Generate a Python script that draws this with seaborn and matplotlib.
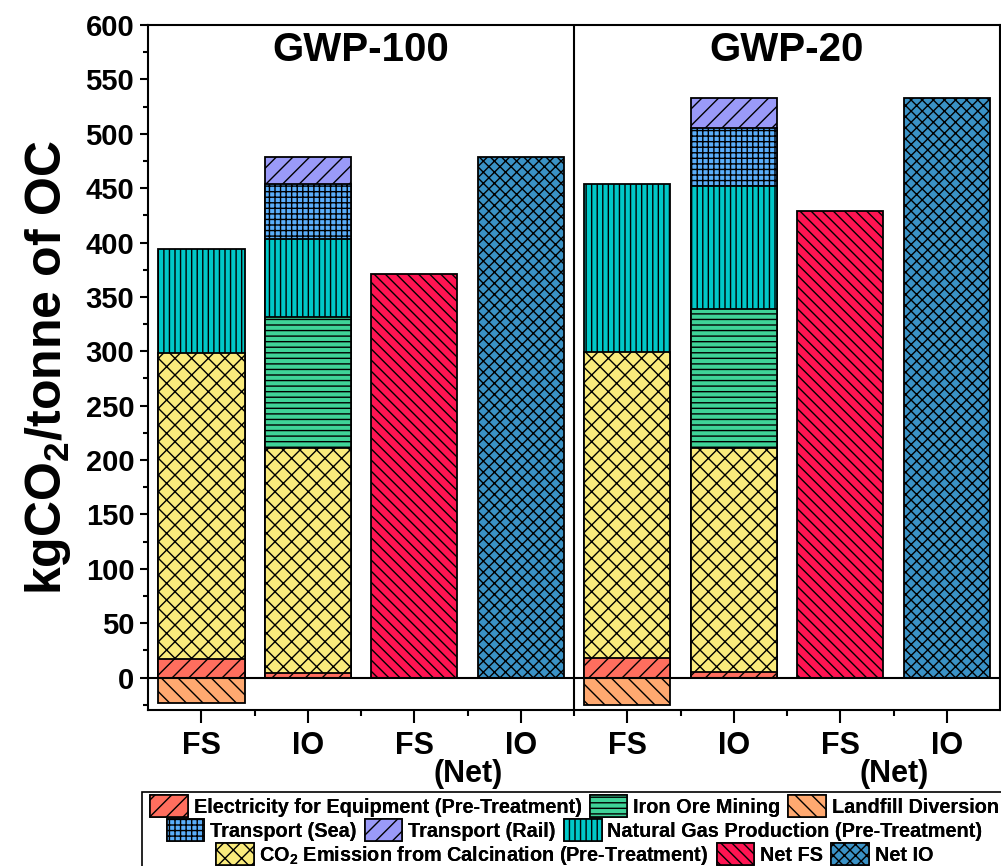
import numpy as np
import pandas as pd
import matplotlib.pyplot as plt
from matplotlib.patches import Patch, Rectangle
import seaborn as sns

nan = np.nan

# one slot per bar: FS, IO, FS (Net), IO (Net) for GWP-100 then GWP-20
slots = ["FS-100", "IO-100", "FSnet-100", "IOnet-100",
         "FS-20", "IO-20", "FSnet-20", "IOnet-20"]
tick_labels = ["FS", "IO", "FS", "IO", "FS", "IO", "FS", "IO"]
scenarios = ["GWP-100", "GWP-20"]

# stacked contributions (kgCO2 / tonne OC), bottom to top
electricity = [17, 4, nan, nan, 18, 5, nan, nan]
calcination = [281, 207, nan, nan, 281, 206, nan, nan]
iron_ore = [nan, 121, nan, nan, nan, 128, nan, nan]
natural_gas = [96, 71, nan, nan, 155, 113, nan, nan]
transport_sea = [nan, 51, nan, nan, nan, 53, nan, nan]
transport_rail = [nan, 25, nan, nan, nan, 28, nan, nan]
landfill = [-23, nan, nan, nan, -25, nan, nan, nan]
net_fs = [nan, nan, 371, nan, nan, nan, 429, nan]
net_io = [nan, nan, nan, 479, nan, nan, nan, 533]

stack = [
    ("Electricity for Equipment (Pre-Treatment)", electricity, "#FF6E5E", "//"),
    ("CO$_2$ Emission from Calcination (Pre-Treatment)", calcination, "#FAEB7C", "xx"),
    ("Iron Ore Mining", iron_ore, "#3FD398", "---"),
    ("Natural Gas Production (Pre-Treatment)", natural_gas, "#00C8C8", "|||"),
    ("Transport (Sea)", transport_sea, "#5AAEFA", "+++"),
    ("Transport (Rail)", transport_rail, "#9A9AF8", "//"),
]
singles = [
    ("Landfill Diversion", landfill, "#FFA970", "\\\\"),
    ("Net FS", net_fs, "#FF1452", "\\\\\\"),
    ("Net IO", net_io, "#3A92C6", "xxx"),
]

sns.set_theme(style="ticks")
plt.rcParams["font.family"] = ["Liberation Sans", "DejaVu Sans"]
plt.rcParams["font.weight"] = "bold"
plt.rcParams["text.color"] = "black"
plt.rcParams["axes.labelcolor"] = "black"
plt.rcParams["mathtext.fontset"] = "custom"
plt.rcParams["mathtext.rm"] = "Liberation Sans:bold"
plt.rcParams["mathtext.default"] = "rm"
plt.rcParams["hatch.linewidth"] = 1.0
plt.rcParams["hatch.color"] = "black"

fig = plt.figure(figsize=(10.01, 8.66), dpi=100)
ax = fig.add_axes([0.148, 0.18, 0.851, 0.791])

def draw(values, color, hatch):
    sns.barplot(x=slots, y=values, order=slots, color=color, saturation=1,
                width=0.81, edgecolor="black", linewidth=1.3, errorbar=None, ax=ax)
    for bar in ax.containers[-1]:
        bar.set_hatch(hatch)

# stacked bars: draw cumulative totals from the top layer down
parts = np.array([np.nan_to_num(v) for _, v, _, _ in stack])
tops = np.cumsum(parts, axis=0)
for i in range(len(stack) - 1, -1, -1):
    name, vals, color, hatch = stack[i]
    heights = [t if not np.isnan(v) else nan for t, v in zip(tops[i], vals)]
    draw(heights, color, hatch)
for name, vals, color, hatch in singles:
    draw(vals, color, hatch)

ax.set_xlim(-0.5, 7.5)
ax.set_ylim(-30, 600)
ax.set_xlabel("")
ax.set_ylabel("kgCO$_2$/tonne of OC", fontsize=36, fontweight="bold", labelpad=9)
ax.set_yticks(np.arange(0, 601, 50))
ax.set_yticks(np.arange(-25, 600, 25), minor=True)
ax.set_xticks(range(8))
ax.set_xticklabels(tick_labels)
ax.set_xticks(np.arange(0.5, 7.5, 1), minor=True)
ax.tick_params(axis="both", which="both", direction="out", width=1.5, colors="black")
ax.tick_params(axis="y", which="major", length=6, labelsize=21, pad=4)
ax.tick_params(axis="y", which="minor", length=3.5)
ax.tick_params(axis="x", which="major", length=9, labelsize=22, pad=6)
ax.tick_params(axis="x", which="minor", length=4)
for lab in ax.get_xticklabels() + ax.get_yticklabels():
    lab.set_fontweight("bold")
for s in ax.spines.values():
    s.set_visible(True)
    s.set_linewidth(1.5)
    s.set_color("black")

ax.axhline(0, color="black", lw=1.5, zorder=5)
ax.axvline(3.5, color="black", lw=1.5, zorder=5)
for k, name in enumerate(scenarios):
    ax.text(1.5 + 4 * k, 577, name, ha="center", va="center",
            fontsize=29, fontweight="bold")
    ax.text(2.18 + 4 * k, -89, "(Net)", ha="left", va="center",
            fontsize=22, fontweight="bold", clip_on=False)

# legend: three centred rows inside one frame
handles = {n: Patch(facecolor=c, edgecolor="black", hatch=h, lw=1.2)
           for n, _, c, h in stack + singles}
rows = [
    ["Electricity for Equipment (Pre-Treatment)", "Iron Ore Mining", "Landfill Diversion"],
    ["Transport (Sea)", "Transport (Rail)", "Natural Gas Production (Pre-Treatment)"],
    ["CO$_2$ Emission from Calcination (Pre-Treatment)", "Net FS", "Net IO"],
]
row_y = [1 - 806 / 866, 1 - 830 / 866, 1 - 855 / 866]
for names, y in zip(rows, row_y):
    leg = fig.legend([handles[n] for n in names], names, ncol=3, loc="center",
                     bbox_to_anchor=(0.574, y), frameon=False,
                     prop={"weight": "bold", "size": 14.3},
                     handlelength=1.9, handleheight=1.3, handletextpad=0.3,
                     columnspacing=0.4, borderpad=0, borderaxespad=0)
    fig.add_artist(leg)
fig.add_artist(Rectangle((0.142, -0.02), 0.9, 1 - 792 / 866 + 0.02,
                         transform=fig.transFigure, fill=False,
                         edgecolor="black", lw=1.2))

fig.savefig("out.png", dpi=100, facecolor="white")
